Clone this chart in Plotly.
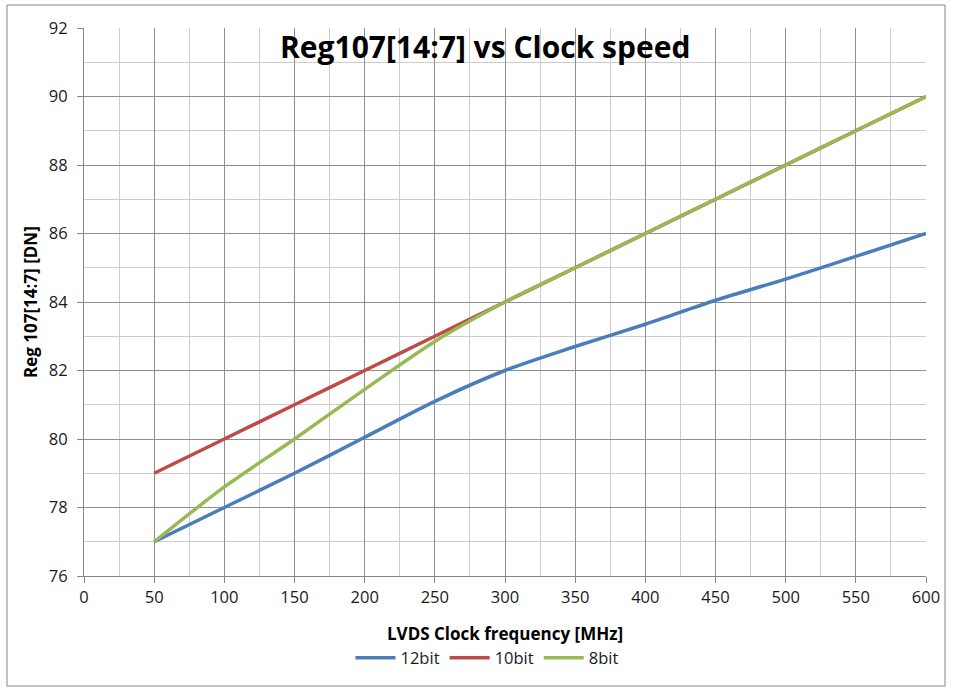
import plotly.graph_objects as go

# LVDS clock frequency [MHz]
freq = [50, 100, 150, 200, 250, 300, 350, 400, 450, 500, 550, 600]

# Reg107[14:7] readings [DN] per ADC resolution
reg_12bit = [77, 78, 79, 80.05, 81.1, 82, 82.7, 83.35, 84.05, 84.67, 85.33, 86]
reg_10bit = [79, 80, 81, 82, 83, 84, 85, 86, 87, 88, 89, 90]
reg_8bit = [77, 78.6, 80, 81.45, 82.85, 84, 85, 86, 87, 88, 89, 90]

x_ticks = [0, 50, 100, 150, 200, 250, 300, 350, 400, 450, 500, 550, 600]
y_ticks = [76, 78, 80, 82, 84, 86, 88, 90, 92]

FONT = "Open Sans"
W, H = 953, 688
L, R, T, B = 84, 27, 28, 112

series = [
    ("12bit", reg_12bit, "#4a7ebb"),
    ("10bit", reg_10bit, "#be4b48"),
    ("8bit", reg_8bit, "#98b954"),
]

fig = go.Figure()
for name, vals, color in series:
    fig.add_trace(go.Scatter(
        x=freq, y=vals, name=name, mode="lines",
        line=dict(color=color, width=3.5, shape="spline", smoothing=0.8),
    ))

grid_major = "#8e8e8e"
grid_minor = "#cccccc"
tick_font = dict(family=FONT, size=16.5, color="#1a1a1a")

fig.update_xaxes(
    range=[0, 600], tickvals=x_ticks, ticktext=[str(v) for v in x_ticks],
    showgrid=True, gridcolor=grid_major, gridwidth=1,
    minor=dict(dtick=25, tick0=0, showgrid=True, gridcolor=grid_minor, gridwidth=1),
    showline=True, linecolor="#868686", linewidth=1,
    ticks="outside", ticklen=6, tickcolor="#868686",
    tickfont=tick_font,
    zeroline=False, fixedrange=True,
)
fig.update_yaxes(
    range=[76, 92], tickvals=y_ticks, ticktext=[str(v) for v in y_ticks],
    showgrid=True, gridcolor=grid_major, gridwidth=1,
    minor=dict(dtick=1, tick0=76, showgrid=True, gridcolor=grid_minor, gridwidth=1),
    showline=True, linecolor="#868686", linewidth=1,
    ticks="outside", ticklen=6, tickcolor="#868686",
    tickfont=tick_font,
    ticklabelstandoff=6,
    zeroline=False, fixedrange=True,
)

pw, ph = W - L - R, H - T - B


def px(x):
    return (x - L) / pw


def py(y):
    return (H - B - y) / ph


fig.update_layout(
    width=W, height=H,
    margin=dict(l=L, r=R, t=T, b=B),
    paper_bgcolor="white", plot_bgcolor="white",
    showlegend=True,
    legend=dict(
        orientation="h", x=px(487), y=py(658), xanchor="center", yanchor="middle",
        font=dict(family=FONT, size=16.5, color="#1a1a1a"),
        itemwidth=40, tracegroupgap=0, bgcolor="rgba(0,0,0,0)",
    ),
    annotations=[
        dict(text="<b>Reg107[14:7] vs Clock speed</b>", xref="paper", yref="paper",
             x=px(485), y=py(46), xanchor="center", yanchor="middle", showarrow=False,
             font=dict(family=FONT, size=30, color="black")),
        dict(text="<b>LVDS Clock frequency [MHz]</b>", xref="paper", yref="paper",
             x=px(505), y=py(633), xanchor="center", yanchor="middle", showarrow=False,
             font=dict(family=FONT, size=17, color="black")),
        dict(text="<b>Reg 107[14:7] [DN]</b>", xref="paper", yref="paper",
             x=px(30), y=py(302), xanchor="center", yanchor="middle", showarrow=False,
             textangle=-90, font=dict(family=FONT, size=17, color="black")),
    ],
    shapes=[
        dict(type="rect", xref="paper", yref="paper",
             x0=px(7), x1=px(945), y0=py(686), y1=py(5),
             line=dict(color="#868686", width=1), fillcolor="rgba(0,0,0,0)", layer="below"),
    ],
)

fig.write_html("out.html")
